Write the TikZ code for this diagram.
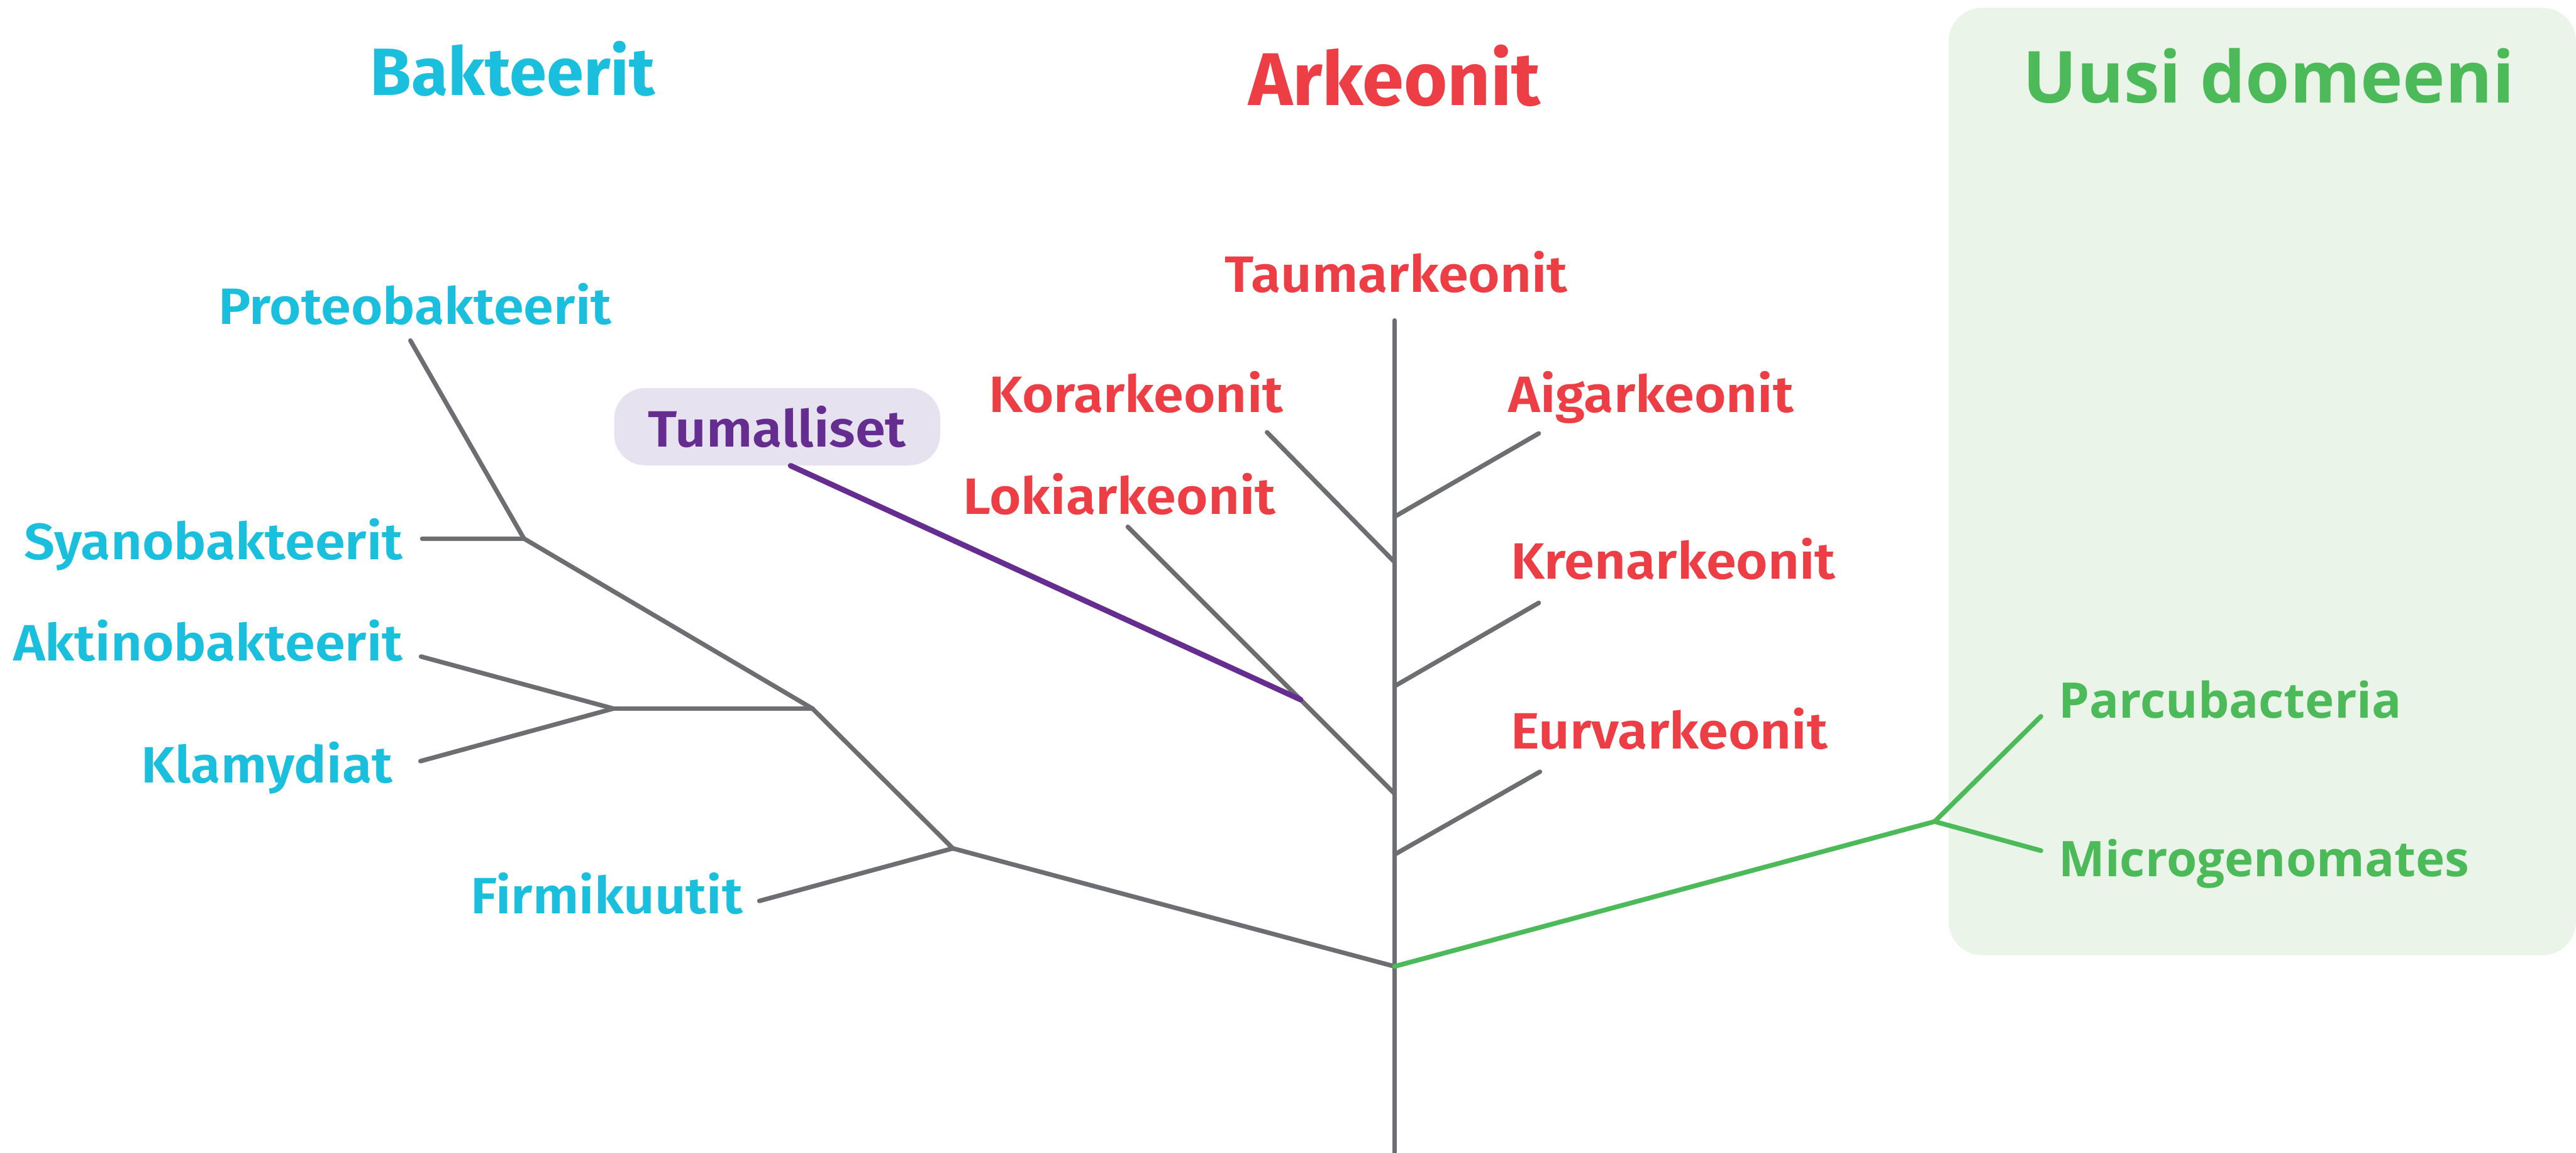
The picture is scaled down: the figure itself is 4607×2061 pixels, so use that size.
\documentclass[tikz,border=0pt]{standalone}
\usepackage{fontspec}
\setmainfont{Fira Sans}
\newfontfamily\labfont{Fira Sans}[UprightFont=* Medium, BoldFont=* SemiBold, FakeStretch=1.065]
\newfontfamily\widefont{Open Sans}
\definecolor{bcyan}{HTML}{1BBFDE}
\definecolor{ared}{HTML}{EE3E45}
\definecolor{ngreen}{HTML}{4DBA59}
\definecolor{tpurple}{HTML}{662D91}
\definecolor{tfill}{HTML}{E7E2F0}
\definecolor{gfill}{HTML}{EAF4E9}
\definecolor{treegray}{HTML}{6D6E71}
\begin{document}
\begin{tikzpicture}[x=0.01cm,y=-0.01cm,
  br/.style={draw=treegray,line width=2.3pt,line cap=round,line join=round},
  gbr/.style={draw=ngreen,line width=2.4pt,line cap=round,line join=round},
  pbr/.style={draw=tpurple,line width=2.8pt,line cap=round},
  lab/.style={inner sep=0pt,font=\labfont\fontsize{26}{30}\selectfont\bfseries},
  head/.style={inner sep=0pt,font=\fontsize{38}{44}\selectfont\bfseries},
  glab/.style={inner sep=0pt,text=ngreen,font=\widefont\fontsize{25}{30}\selectfont\bfseries},
  bac/.style={lab,text=bcyan},
  arc/.style={lab,text=ared}]
\useasboundingbox (0,0) rectangle (4607,2061);
% green domain panel
\fill[gfill,rounded corners=0.6cm] (3485,14) rectangle (4607,1708);
% headers
\node[head,text=bcyan,anchor=base,font=\fontsize{34}{40}\selectfont\bfseries] (hB) at (917,170) {Bakteerit};
\node[head,text=ared,anchor=base] (hA) at (2494,188) {Arkeonit};
\node[head,text=ngreen,anchor=base,font=\widefont\fontsize{36.5}{44}\selectfont\bfseries] (hU) at (4057,184) {Uusi domeeni};
% coordinates
\coordinate (root) at (2494,1728);
\coordinate (ttop) at (2494,573);
\coordinate (tbot) at (2494,2070);
\coordinate (nD) at (1704,1517);
\coordinate (nC) at (1453,1267);
\coordinate (nB) at (1097,1267);
\coordinate (nA) at (937,963);
\coordinate (eFir) at (1358,1611);
\coordinate (eAkt) at (753,1174);
\coordinate (eKla) at (752,1361);
\coordinate (eSya) at (755,963);
\coordinate (ePro) at (734,609);
\coordinate (jAig) at (2494,924);
\coordinate (eAig) at (2752,775);
\coordinate (jKor) at (2494,1005);
\coordinate (eKor) at (2266,773);
\coordinate (jKre) at (2494,1227);
\coordinate (eKre) at (2752,1078);
\coordinate (jLok) at (2494,1419);
\coordinate (eLok) at (2017,942);
\coordinate (jEur) at (2494,1528);
\coordinate (eEur) at (2754,1380);
\coordinate (jTum) at (2326,1251);
\coordinate (gB) at (3460,1469);
\coordinate (eParc) at (3650,1281);
\coordinate (eMic) at (3650,1521);
% labels
\node[bac,anchor=base] (lPro) at (742,580) {Proteobakteerit};
\node[bac,anchor=base east] (lSya) at (721,1001) {Syanobakteerit};
\node[bac,anchor=base east] (lAkt) at (721,1182) {Aktinobakteerit};
\node[bac,anchor=base east] (lKla) at (703,1400) {Klamydiat};
\node[bac,anchor=base east] (lFir) at (1329,1634) {Firmikuutit};
\node[arc,anchor=base] (lTau) at (2497,522) {Taumarkeonit};
\node[arc,anchor=base] (lKor) at (2032,737) {Korarkeonit};
\node[arc,anchor=base] (lLok) at (2002,919) {Lokiarkeonit};
\node[arc,anchor=base west] (lAig) at (2697,737) {Aigarkeonit};
\node[arc,anchor=base west] (lKre) at (2701,1035) {Krenarkeonit};
\node[arc,anchor=base west] (lEur) at (2701,1339) {Eurvarkeonit};
\node[glab,anchor=base west] (lParc) at (3681,1284) {Parcubacteria};
\node[glab,anchor=base west] (lMic) at (3681,1567) {Microgenomates};
\node[inner sep=0pt,font=\labfont\fontsize{26}{30}\selectfont\bfseries,text=tpurple,fill=tfill,rounded corners=0.55cm,minimum width=5.83cm,minimum height=1.38cm] (tum) at (1390,763) {Tumalliset};
% bacteria branches
\draw[br] (ePro) -- (nA);
\draw[br] (eSya) -- (nA);
\draw[br] (nA) -- (nC);
\draw[br] (eAkt) -- (nB);
\draw[br] (eKla) -- (nB);
\draw[br] (nB) -- (nC);
\draw[br] (nC) -- (nD);
\draw[br] (eFir) -- (nD);
\draw[br] (nD) -- (root);
% archaea
\draw[br] (ttop) -- (tbot);
\draw[br] (eAig) -- (jAig);
\draw[br] (eKor) -- (jKor);
\draw[br] (eKre) -- (jKre);
\draw[br] (eLok) -- (jLok);
\draw[br] (eEur) -- (jEur);
% eukaryotes
\draw[pbr] ([xshift=0.24cm]tum.south) -- (jTum);
% new domain
\draw[gbr] (root) -- (gB);
\draw[gbr] (gB) -- (eParc);
\draw[gbr] (gB) -- (eMic);
\end{tikzpicture}
\end{document}
